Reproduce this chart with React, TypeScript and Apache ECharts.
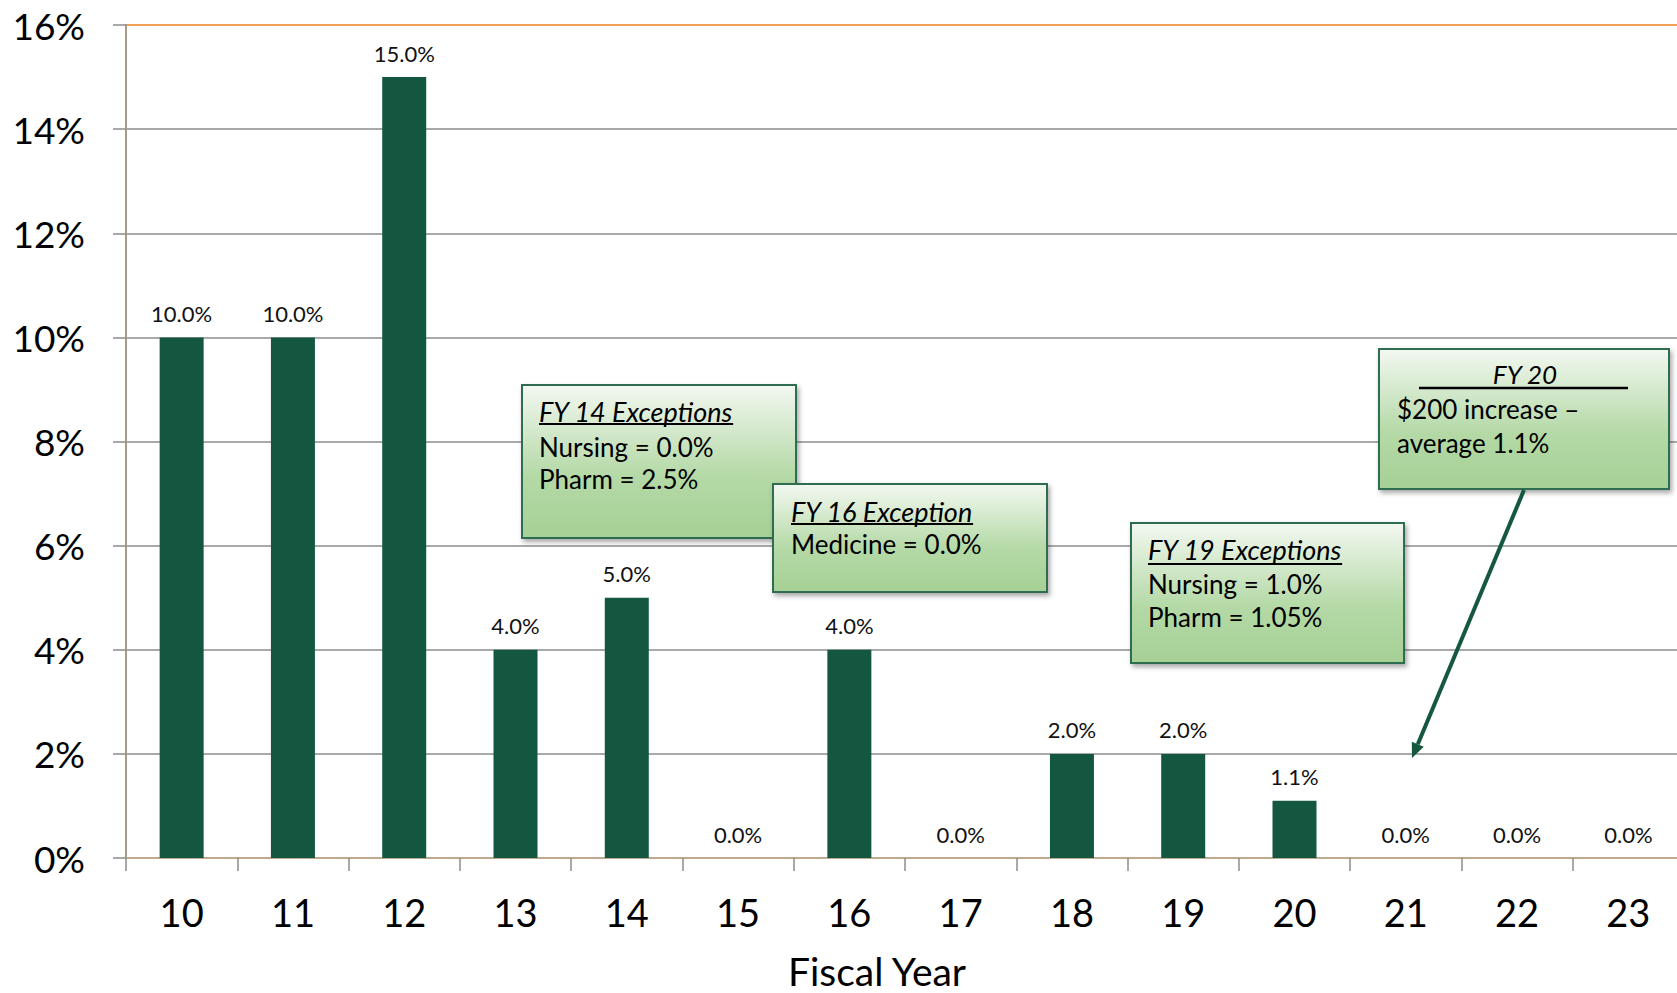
import React, { useEffect, useRef } from "react";
import * as echarts from "echarts";

const categories = ["10", "11", "12", "13", "14", "15", "16", "17", "18", "19", "20", "21", "22", "23"];
const values = [10, 10, 15, 4, 5, 0, 4, 0, 2, 2, 1.1, 0, 0, 0];
const yMin = 0;
const yMax = 16;
const yStep = 2;
const xAxisTitle = "Fiscal Year";

const box14Lines = ["FY 14 Exceptions", "Nursing = 0.0%", "Pharm = 2.5%"];
const box16Lines = ["FY 16 Exception", "Medicine = 0.0%"];
const box19Lines = ["FY 19 Exceptions", "Nursing = 1.0%", "Pharm = 1.05%"];
const box20Lines = ["FY 20", "$200 increase \u2013", "average 1.1%"];

const FONT = "Lato, 'Open Sans', sans-serif";
const BAR = "#135741";

function measure(text: string, font: string): number {
  const c = document.createElement("canvas");
  const ctx = c.getContext("2d")!;
  ctx.font = font;
  return ctx.measureText(text).width;
}

function boxRect(x: number, y: number, w: number, h: number, z: number) {
  return {
    type: "rect",
    z,
    shape: { x, y, width: w, height: h },
    style: {
      fill: new echarts.graphic.LinearGradient(0, 0, 0, 1, [
        { offset: 0, color: "#f3f8f1" },
        { offset: 0.6, color: "#b4d9a6" },
        { offset: 1, color: "#a6d095" },
      ]),
      stroke: "#2f6d4f",
      lineWidth: 2,
      shadowBlur: 5,
      shadowOffsetX: 2,
      shadowOffsetY: 3,
      shadowColor: "rgba(0,0,0,0.35)",
    },
  };
}

function txt(text: string, x: number, y: number, z: number, italic = false, align = "left", size = 26) {
  return {
    type: "text",
    z,
    x,
    y,
    style: {
      text,
      fontFamily: FONT,
      fontSize: size,
      fontStyle: italic ? "italic" : "normal",
      fill: "#000000",
      align,
      verticalAlign: "middle",
    },
  };
}

function underline(x1: number, x2: number, y: number, z: number, w = 2) {
  return {
    type: "line",
    z,
    shape: { x1, y1: y, x2, y2: y },
    style: { stroke: "#000000", lineWidth: w },
  };
}

export default function App() {
  const ref = useRef<HTMLDivElement>(null);

  useEffect(() => {
    if (!ref.current) return;
    const chart = echarts.init(ref.current, undefined, { renderer: "svg" });

    const hFont = "italic 27px Lato";
    const w14 = measure(box14Lines[0], hFont);
    const w16 = measure(box16Lines[0], hFont);
    const w19 = measure(box19Lines[0], hFont);

    // arrow geometry
    const ax1 = 1524, ay1 = 490, ax2 = 1412, ay2 = 758;
    const dx = ax2 - ax1, dy = ay2 - ay1;
    const len = Math.sqrt(dx * dx + dy * dy);
    const ux = dx / len, uy = dy / len;
    const headL = 15, headW = 6.5;
    const bx = ax2 - ux * headL, by = ay2 - uy * headL;
    const px = -uy, py = ux;

    const gridColors = [
      "#8c8c8c", "#8c8c8c", "#8c8c8c", "#8c8c8c", "#8c8c8c",
      "#8c8c8c", "#8c8c8c", "#8c8c8c", "#e8821e",
    ];

    const option: any = {
      animation: false,
      backgroundColor: "#ffffff",
      grid: {
        left: 126,
        width: 1558,
        top: 25,
        height: 833,
        containLabel: false,
        outerBoundsMode: "none",
      },
      xAxis: {
        type: "category",
        data: categories,
        boundaryGap: true,
        axisLine: { show: true, lineStyle: { color: "#bfa98f", width: 2 } },
        axisTick: { show: true, length: 13, lineStyle: { color: "#8c8c8c", width: 1.5 } },
        axisLabel: { fontFamily: FONT, fontSize: 38, color: "#000000", margin: 35 },
        splitLine: { show: false },
      },
      yAxis: {
        type: "value",
        min: yMin,
        max: yMax,
        interval: yStep,
        axisLine: { show: true, lineStyle: { color: "#a8998a", width: 2 } },
        axisTick: { show: true, length: 13, lineStyle: { color: "#8c8c8c", width: 1.5 } },
        axisLabel: {
          fontFamily: FONT,
          fontSize: 37,
          color: "#000000",
          margin: 41,
          padding: [0, 0, 6, 0],
          formatter: (v: number) => `${v}%`,
        },
        splitLine: { show: true, lineStyle: { color: gridColors, width: 1.5 } },
      },
      series: [
        {
          type: "bar",
          data: values,
          barWidth: 44,
          itemStyle: { color: BAR },
          label: {
            show: true,
            position: "top",
            distance: 13,
            fontFamily: FONT,
            fontSize: 22,
            color: "#111111",
            formatter: (p: any) => `${Number(p.value).toFixed(1)}%`,
          },
        },
      ],
      graphic: [
        // FY 14 box
        boxRect(522, 385, 274, 153, 100),
        txt(box14Lines[0], 539, 411, 101, true, "left", 27),
        underline(539, 539 + w14, 424, 101),
        txt(box14Lines[1], 539, 447, 101),
        txt(box14Lines[2], 539, 479, 101),
        // FY 16 box
        boxRect(773, 484, 274, 108, 110),
        txt(box16Lines[0], 791, 511, 111, true, "left", 27),
        underline(791, 791 + w16, 524, 111),
        txt(box16Lines[1], 791, 544, 111),
        // FY 19 box
        boxRect(1131, 523, 273, 140, 120),
        txt(box19Lines[0], 1148, 549, 121, true, "left", 27),
        underline(1148, 1148 + w19, 564, 121),
        txt(box19Lines[1], 1148, 584, 121),
        txt(box19Lines[2], 1148, 617, 121),
        // FY 20 box
        boxRect(1379, 349, 290, 140, 130),
        txt(box20Lines[0], 1525, 374, 131, true, "center"),
        underline(1419, 1628, 388, 131, 2.5),
        txt(box20Lines[1], 1397, 409, 131),
        txt(box20Lines[2], 1397, 443, 131),
        // arrow
        {
          type: "line",
          z: 140,
          shape: { x1: ax1, y1: ay1, x2: bx, y2: by },
          style: { stroke: "#16583f", lineWidth: 4 },
        },
        {
          type: "polygon",
          z: 140,
          shape: {
            points: [
              [ax2, ay2],
              [bx + px * headW, by + py * headW],
              [bx - px * headW, by - py * headW],
            ],
          },
          style: { fill: "#16583f" },
        },
        // x axis title
        {
          type: "text",
          z: 50,
          x: 877,
          y: 971,
          style: {
            text: xAxisTitle,
            fontFamily: FONT,
            fontSize: 39,
            fill: "#000000",
            align: "center",
            verticalAlign: "middle",
          },
        },
      ],
    };

    chart.setOption(option);
    return () => chart.dispose();
  }, []);

  return (
    <div
      ref={ref}
      style={{ position: "absolute", left: 0, top: 0, width: "1677px", height: "993px" }}
    />
  );
}
